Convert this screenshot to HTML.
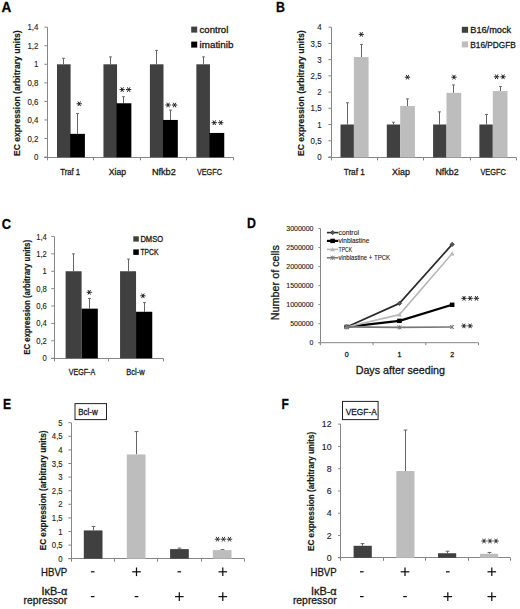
<!DOCTYPE html><html><head><meta charset="utf-8"><style>html,body{margin:0;padding:0;background:#fff;}svg{display:block;}text{font-family:"Liberation Sans",sans-serif;stroke:#1a1a1a;stroke-width:0.3px;}</style></head><body>
<svg width="520" height="609" viewBox="0 0 520 609">
<rect width="520" height="609" fill="#fff"/>
<text x="1.4" y="11.5" font-size="13.8" font-weight="bold" textLength="9.8" lengthAdjust="spacingAndGlyphs" fill="#000">A</text>
<line x1="47.5" y1="157.05" x2="47.5" y2="27.2" stroke="#868686" stroke-width="1"/>
<line x1="44.4" y1="157.05" x2="47.2" y2="157.05" stroke="#868686" stroke-width="1"/>
<text x="38.4" y="160.22" font-size="8.8" text-anchor="end" textLength="4.4" lengthAdjust="spacingAndGlyphs" fill="#1a1a1a" style="stroke-width:0.12px">0</text>
<line x1="44.4" y1="138.5" x2="47.2" y2="138.5" stroke="#868686" stroke-width="1"/>
<text x="38.4" y="141.67" font-size="8.8" text-anchor="end" textLength="11.01" lengthAdjust="spacingAndGlyphs" fill="#1a1a1a" style="stroke-width:0.12px">0,2</text>
<line x1="44.4" y1="119.95" x2="47.2" y2="119.95" stroke="#868686" stroke-width="1"/>
<text x="38.4" y="123.12" font-size="8.8" text-anchor="end" textLength="11.01" lengthAdjust="spacingAndGlyphs" fill="#1a1a1a" style="stroke-width:0.12px">0,4</text>
<line x1="44.4" y1="101.4" x2="47.2" y2="101.4" stroke="#868686" stroke-width="1"/>
<text x="38.4" y="104.57" font-size="8.8" text-anchor="end" textLength="11.01" lengthAdjust="spacingAndGlyphs" fill="#1a1a1a" style="stroke-width:0.12px">0,6</text>
<line x1="44.4" y1="82.85" x2="47.2" y2="82.85" stroke="#868686" stroke-width="1"/>
<text x="38.4" y="86.02" font-size="8.8" text-anchor="end" textLength="11.01" lengthAdjust="spacingAndGlyphs" fill="#1a1a1a" style="stroke-width:0.12px">0,8</text>
<line x1="44.4" y1="64.3" x2="47.2" y2="64.3" stroke="#868686" stroke-width="1"/>
<text x="38.4" y="67.47" font-size="8.8" text-anchor="end" textLength="4.4" lengthAdjust="spacingAndGlyphs" fill="#1a1a1a" style="stroke-width:0.12px">1</text>
<line x1="44.4" y1="45.75" x2="47.2" y2="45.75" stroke="#868686" stroke-width="1"/>
<text x="38.4" y="48.92" font-size="8.8" text-anchor="end" textLength="11.01" lengthAdjust="spacingAndGlyphs" fill="#1a1a1a" style="stroke-width:0.12px">1,2</text>
<line x1="44.4" y1="27.2" x2="47.2" y2="27.2" stroke="#868686" stroke-width="1"/>
<text x="38.4" y="30.37" font-size="8.8" text-anchor="end" textLength="11.01" lengthAdjust="spacingAndGlyphs" fill="#1a1a1a" style="stroke-width:0.12px">1,4</text>
<line x1="44.2" y1="157.5" x2="233" y2="157.5" stroke="#868686" stroke-width="1"/>
<line x1="47.5" y1="157.3" x2="47.5" y2="160.3" stroke="#868686" stroke-width="1"/>
<line x1="93.5" y1="157.3" x2="93.5" y2="160.3" stroke="#868686" stroke-width="1"/>
<line x1="140.5" y1="157.3" x2="140.5" y2="160.3" stroke="#868686" stroke-width="1"/>
<line x1="186.5" y1="157.3" x2="186.5" y2="160.3" stroke="#868686" stroke-width="1"/>
<line x1="233.5" y1="157.3" x2="233.5" y2="160.3" stroke="#868686" stroke-width="1"/>
<line x1="63.5" y1="58.27" x2="63.5" y2="64.3" stroke="#666666" stroke-width="1"/>
<line x1="62.1" y1="58.27" x2="64.9" y2="58.27" stroke="#666666" stroke-width="1"/>
<rect x="57" y="64.3" width="13.6" height="93" fill="#404040"/>
<line x1="77.5" y1="113.46" x2="77.5" y2="133.86" stroke="#666666" stroke-width="1"/>
<line x1="76.1" y1="113.46" x2="78.9" y2="113.46" stroke="#666666" stroke-width="1"/>
<rect x="70.1" y="133.86" width="14.8" height="23.44" fill="#000000"/>
<text x="70.2" y="174.8" font-size="9.2" text-anchor="middle" textLength="20" lengthAdjust="spacingAndGlyphs" fill="#1a1a1a">Traf 1</text>
<line x1="110.5" y1="56.88" x2="110.5" y2="64.3" stroke="#666666" stroke-width="1"/>
<line x1="109.1" y1="56.88" x2="111.9" y2="56.88" stroke="#666666" stroke-width="1"/>
<rect x="103.45" y="64.3" width="13.6" height="93" fill="#404040"/>
<line x1="123.5" y1="96.76" x2="123.5" y2="103.26" stroke="#666666" stroke-width="1"/>
<line x1="122.1" y1="96.76" x2="124.9" y2="96.76" stroke="#666666" stroke-width="1"/>
<rect x="116.55" y="103.26" width="14.8" height="54.04" fill="#000000"/>
<text x="117.5" y="174.8" font-size="9.2" text-anchor="middle" textLength="17.3" lengthAdjust="spacingAndGlyphs" fill="#1a1a1a">Xiap</text>
<line x1="156.5" y1="50.39" x2="156.5" y2="64.3" stroke="#666666" stroke-width="1"/>
<line x1="155.1" y1="50.39" x2="157.9" y2="50.39" stroke="#666666" stroke-width="1"/>
<rect x="149.9" y="64.3" width="13.6" height="93" fill="#404040"/>
<line x1="170.5" y1="110.12" x2="170.5" y2="119.95" stroke="#666666" stroke-width="1"/>
<line x1="169.1" y1="110.12" x2="171.9" y2="110.12" stroke="#666666" stroke-width="1"/>
<rect x="163" y="119.95" width="14.8" height="37.35" fill="#000000"/>
<text x="163.85" y="174.8" font-size="9.2" text-anchor="middle" textLength="23.9" lengthAdjust="spacingAndGlyphs" fill="#1a1a1a">Nfkb2</text>
<line x1="203.5" y1="56.88" x2="203.5" y2="64.3" stroke="#666666" stroke-width="1"/>
<line x1="202.1" y1="56.88" x2="204.9" y2="56.88" stroke="#666666" stroke-width="1"/>
<rect x="196.35" y="64.3" width="13.6" height="93" fill="#404040"/>
<rect x="209.45" y="132.94" width="14.8" height="24.37" fill="#000000"/>
<text x="209.45" y="174.8" font-size="9.2" text-anchor="middle" textLength="25.1" lengthAdjust="spacingAndGlyphs" fill="#1a1a1a">VEGFC</text>
<line x1="76.55" y1="103.8" x2="81.85" y2="103.8" stroke="#1a1a1a" stroke-width="0.95"/>
<line x1="77.88" y1="101.51" x2="80.53" y2="106.09" stroke="#1a1a1a" stroke-width="0.95"/>
<line x1="80.53" y1="101.51" x2="77.88" y2="106.09" stroke="#1a1a1a" stroke-width="0.95"/>
<line x1="119.5" y1="89.6" x2="124.8" y2="89.6" stroke="#1a1a1a" stroke-width="0.95"/>
<line x1="120.83" y1="87.31" x2="123.48" y2="91.89" stroke="#1a1a1a" stroke-width="0.95"/>
<line x1="123.48" y1="87.31" x2="120.83" y2="91.89" stroke="#1a1a1a" stroke-width="0.95"/>
<line x1="126" y1="89.6" x2="131.3" y2="89.6" stroke="#1a1a1a" stroke-width="0.95"/>
<line x1="127.33" y1="87.31" x2="129.97" y2="91.89" stroke="#1a1a1a" stroke-width="0.95"/>
<line x1="129.97" y1="87.31" x2="127.33" y2="91.89" stroke="#1a1a1a" stroke-width="0.95"/>
<line x1="165.4" y1="105" x2="170.7" y2="105" stroke="#1a1a1a" stroke-width="0.95"/>
<line x1="166.73" y1="102.71" x2="169.38" y2="107.29" stroke="#1a1a1a" stroke-width="0.95"/>
<line x1="169.38" y1="102.71" x2="166.73" y2="107.29" stroke="#1a1a1a" stroke-width="0.95"/>
<line x1="171.9" y1="105" x2="177.2" y2="105" stroke="#1a1a1a" stroke-width="0.95"/>
<line x1="173.23" y1="102.71" x2="175.88" y2="107.29" stroke="#1a1a1a" stroke-width="0.95"/>
<line x1="175.88" y1="102.71" x2="173.23" y2="107.29" stroke="#1a1a1a" stroke-width="0.95"/>
<line x1="211.6" y1="122.7" x2="216.9" y2="122.7" stroke="#1a1a1a" stroke-width="0.95"/>
<line x1="212.93" y1="120.41" x2="215.57" y2="124.99" stroke="#1a1a1a" stroke-width="0.95"/>
<line x1="215.57" y1="120.41" x2="212.93" y2="124.99" stroke="#1a1a1a" stroke-width="0.95"/>
<line x1="218.1" y1="122.7" x2="223.4" y2="122.7" stroke="#1a1a1a" stroke-width="0.95"/>
<line x1="219.43" y1="120.41" x2="222.07" y2="124.99" stroke="#1a1a1a" stroke-width="0.95"/>
<line x1="222.07" y1="120.41" x2="219.43" y2="124.99" stroke="#1a1a1a" stroke-width="0.95"/>
<rect x="191.2" y="26.6" width="6" height="6" fill="#404040"/>
<rect x="191.2" y="41.6" width="6" height="6" fill="#000000"/>
<text x="199.6" y="32.5" font-size="8.8" textLength="28.7" lengthAdjust="spacingAndGlyphs" fill="#1a1a1a">control</text>
<text x="199.6" y="47.5" font-size="8.8" textLength="33.8" lengthAdjust="spacingAndGlyphs" fill="#1a1a1a">imatinib</text>
<text transform="translate(20,156.1) rotate(-90)" x="0" y="0" font-size="9" font-weight="bold" style="stroke-width:0.18px" textLength="125.8" lengthAdjust="spacingAndGlyphs" fill="#1a1a1a">EC expression (arbitrary units)</text>
<text x="276" y="11.6" font-size="13.8" font-weight="bold" textLength="8.9" lengthAdjust="spacingAndGlyphs" fill="#000">B</text>
<line x1="331.5" y1="156.93" x2="331.5" y2="27.21" stroke="#868686" stroke-width="1"/>
<line x1="328.4" y1="156.93" x2="331.2" y2="156.93" stroke="#868686" stroke-width="1"/>
<text x="321.6" y="160.1" font-size="8.8" text-anchor="end" textLength="4.4" lengthAdjust="spacingAndGlyphs" fill="#1a1a1a" style="stroke-width:0.12px">0</text>
<line x1="328.4" y1="140.72" x2="331.2" y2="140.72" stroke="#868686" stroke-width="1"/>
<text x="321.6" y="143.88" font-size="8.8" text-anchor="end" textLength="11.01" lengthAdjust="spacingAndGlyphs" fill="#1a1a1a" style="stroke-width:0.12px">0,5</text>
<line x1="328.4" y1="124.5" x2="331.2" y2="124.5" stroke="#868686" stroke-width="1"/>
<text x="321.6" y="127.67" font-size="8.8" text-anchor="end" textLength="4.4" lengthAdjust="spacingAndGlyphs" fill="#1a1a1a" style="stroke-width:0.12px">1</text>
<line x1="328.4" y1="108.29" x2="331.2" y2="108.29" stroke="#868686" stroke-width="1"/>
<text x="321.6" y="111.45" font-size="8.8" text-anchor="end" textLength="11.01" lengthAdjust="spacingAndGlyphs" fill="#1a1a1a" style="stroke-width:0.12px">1,5</text>
<line x1="328.4" y1="92.07" x2="331.2" y2="92.07" stroke="#868686" stroke-width="1"/>
<text x="321.6" y="95.24" font-size="8.8" text-anchor="end" textLength="4.4" lengthAdjust="spacingAndGlyphs" fill="#1a1a1a" style="stroke-width:0.12px">2</text>
<line x1="328.4" y1="75.86" x2="331.2" y2="75.86" stroke="#868686" stroke-width="1"/>
<text x="321.6" y="79.02" font-size="8.8" text-anchor="end" textLength="11.01" lengthAdjust="spacingAndGlyphs" fill="#1a1a1a" style="stroke-width:0.12px">2,5</text>
<line x1="328.4" y1="59.64" x2="331.2" y2="59.64" stroke="#868686" stroke-width="1"/>
<text x="321.6" y="62.81" font-size="8.8" text-anchor="end" textLength="4.4" lengthAdjust="spacingAndGlyphs" fill="#1a1a1a" style="stroke-width:0.12px">3</text>
<line x1="328.4" y1="43.43" x2="331.2" y2="43.43" stroke="#868686" stroke-width="1"/>
<text x="321.6" y="46.59" font-size="8.8" text-anchor="end" textLength="11.01" lengthAdjust="spacingAndGlyphs" fill="#1a1a1a" style="stroke-width:0.12px">3,5</text>
<line x1="328.4" y1="27.21" x2="331.2" y2="27.21" stroke="#868686" stroke-width="1"/>
<text x="321.6" y="30.38" font-size="8.8" text-anchor="end" textLength="4.4" lengthAdjust="spacingAndGlyphs" fill="#1a1a1a" style="stroke-width:0.12px">4</text>
<line x1="328.2" y1="157.5" x2="516.4" y2="157.5" stroke="#868686" stroke-width="1"/>
<line x1="331.5" y1="157.4" x2="331.5" y2="160.4" stroke="#868686" stroke-width="1"/>
<line x1="377.5" y1="157.4" x2="377.5" y2="160.4" stroke="#868686" stroke-width="1"/>
<line x1="423.5" y1="157.4" x2="423.5" y2="160.4" stroke="#868686" stroke-width="1"/>
<line x1="470.5" y1="157.4" x2="470.5" y2="160.4" stroke="#868686" stroke-width="1"/>
<line x1="516.5" y1="157.4" x2="516.5" y2="160.4" stroke="#868686" stroke-width="1"/>
<line x1="347.5" y1="102.77" x2="347.5" y2="124.5" stroke="#666666" stroke-width="1"/>
<line x1="346.1" y1="102.77" x2="348.9" y2="102.77" stroke="#666666" stroke-width="1"/>
<rect x="340.5" y="124.5" width="13.4" height="32.9" fill="#404040"/>
<line x1="361.5" y1="44.4" x2="361.5" y2="57.05" stroke="#666666" stroke-width="1"/>
<line x1="360.1" y1="44.4" x2="362.9" y2="44.4" stroke="#666666" stroke-width="1"/>
<rect x="353.9" y="57.05" width="14.7" height="100.35" fill="#bdbdbd"/>
<text x="354.25" y="174.8" font-size="9.2" text-anchor="middle" textLength="21.1" lengthAdjust="spacingAndGlyphs" fill="#1a1a1a">Traf 1</text>
<line x1="393.5" y1="122.23" x2="393.5" y2="124.5" stroke="#666666" stroke-width="1"/>
<line x1="392.1" y1="122.23" x2="394.9" y2="122.23" stroke="#666666" stroke-width="1"/>
<rect x="386.8" y="124.5" width="13.4" height="32.9" fill="#404040"/>
<line x1="407.5" y1="98.88" x2="407.5" y2="106.01" stroke="#666666" stroke-width="1"/>
<line x1="406.1" y1="98.88" x2="408.9" y2="98.88" stroke="#666666" stroke-width="1"/>
<rect x="400.2" y="106.01" width="14.7" height="51.39" fill="#bdbdbd"/>
<text x="401" y="174.8" font-size="9.2" text-anchor="middle" textLength="17.8" lengthAdjust="spacingAndGlyphs" fill="#1a1a1a">Xiap</text>
<line x1="439.5" y1="111.85" x2="439.5" y2="124.5" stroke="#666666" stroke-width="1"/>
<line x1="438.1" y1="111.85" x2="440.9" y2="111.85" stroke="#666666" stroke-width="1"/>
<rect x="433.1" y="124.5" width="13.4" height="32.9" fill="#404040"/>
<line x1="453.5" y1="84.94" x2="453.5" y2="92.88" stroke="#666666" stroke-width="1"/>
<line x1="452.1" y1="84.94" x2="454.9" y2="84.94" stroke="#666666" stroke-width="1"/>
<rect x="446.5" y="92.88" width="14.7" height="64.52" fill="#bdbdbd"/>
<text x="447.05" y="174.8" font-size="9.2" text-anchor="middle" textLength="23.3" lengthAdjust="spacingAndGlyphs" fill="#1a1a1a">Nfkb2</text>
<line x1="486.5" y1="114.45" x2="486.5" y2="124.5" stroke="#666666" stroke-width="1"/>
<line x1="485.1" y1="114.45" x2="487.9" y2="114.45" stroke="#666666" stroke-width="1"/>
<rect x="479.4" y="124.5" width="13.4" height="32.9" fill="#404040"/>
<line x1="500.5" y1="86.56" x2="500.5" y2="91.1" stroke="#666666" stroke-width="1"/>
<line x1="499.1" y1="86.56" x2="501.9" y2="86.56" stroke="#666666" stroke-width="1"/>
<rect x="492.8" y="91.1" width="14.7" height="66.3" fill="#bdbdbd"/>
<text x="493.2" y="174.8" font-size="9.2" text-anchor="middle" textLength="25.6" lengthAdjust="spacingAndGlyphs" fill="#1a1a1a">VEGFC</text>
<line x1="358.65" y1="34.4" x2="363.95" y2="34.4" stroke="#1a1a1a" stroke-width="0.95"/>
<line x1="359.98" y1="32.11" x2="362.62" y2="36.69" stroke="#1a1a1a" stroke-width="0.95"/>
<line x1="362.62" y1="32.11" x2="359.98" y2="36.69" stroke="#1a1a1a" stroke-width="0.95"/>
<line x1="404.85" y1="77.2" x2="410.15" y2="77.2" stroke="#1a1a1a" stroke-width="0.95"/>
<line x1="406.18" y1="74.91" x2="408.82" y2="79.49" stroke="#1a1a1a" stroke-width="0.95"/>
<line x1="408.82" y1="74.91" x2="406.18" y2="79.49" stroke="#1a1a1a" stroke-width="0.95"/>
<line x1="451.35" y1="77.2" x2="456.65" y2="77.2" stroke="#1a1a1a" stroke-width="0.95"/>
<line x1="452.68" y1="74.91" x2="455.32" y2="79.49" stroke="#1a1a1a" stroke-width="0.95"/>
<line x1="455.32" y1="74.91" x2="452.68" y2="79.49" stroke="#1a1a1a" stroke-width="0.95"/>
<line x1="493.9" y1="76.8" x2="499.2" y2="76.8" stroke="#1a1a1a" stroke-width="0.95"/>
<line x1="495.23" y1="74.51" x2="497.88" y2="79.09" stroke="#1a1a1a" stroke-width="0.95"/>
<line x1="497.88" y1="74.51" x2="495.23" y2="79.09" stroke="#1a1a1a" stroke-width="0.95"/>
<line x1="500.4" y1="76.8" x2="505.7" y2="76.8" stroke="#1a1a1a" stroke-width="0.95"/>
<line x1="501.73" y1="74.51" x2="504.38" y2="79.09" stroke="#1a1a1a" stroke-width="0.95"/>
<line x1="504.38" y1="74.51" x2="501.73" y2="79.09" stroke="#1a1a1a" stroke-width="0.95"/>
<rect x="461.8" y="26.8" width="6.3" height="6" fill="#404040"/>
<rect x="461.8" y="41.4" width="6.3" height="6" fill="#bdbdbd"/>
<text x="470.3" y="32.7" font-size="8.8" textLength="40.8" lengthAdjust="spacingAndGlyphs" fill="#1a1a1a">B16/mock</text>
<text x="470.3" y="47.5" font-size="8.8" textLength="45.5" lengthAdjust="spacingAndGlyphs" fill="#1a1a1a">B16/PDGFB</text>
<text transform="translate(303.8,156) rotate(-90)" x="0" y="0" font-size="9" font-weight="bold" style="stroke-width:0.18px" textLength="125.7" lengthAdjust="spacingAndGlyphs" fill="#1a1a1a">EC expression (arbitrary units)</text>
<text x="1.8" y="228.6" font-size="13.8" font-weight="bold" textLength="9.3" lengthAdjust="spacingAndGlyphs" fill="#000">C</text>
<line x1="54.5" y1="358.2" x2="54.5" y2="236.47" stroke="#868686" stroke-width="1"/>
<line x1="51.3" y1="358.2" x2="54.1" y2="358.2" stroke="#868686" stroke-width="1"/>
<text x="46.8" y="361.26" font-size="8.5" text-anchor="end" textLength="4.25" lengthAdjust="spacingAndGlyphs" fill="#1a1a1a" style="stroke-width:0.12px">0</text>
<line x1="51.3" y1="340.81" x2="54.1" y2="340.81" stroke="#868686" stroke-width="1"/>
<text x="46.8" y="343.87" font-size="8.5" text-anchor="end" textLength="10.63" lengthAdjust="spacingAndGlyphs" fill="#1a1a1a" style="stroke-width:0.12px">0,2</text>
<line x1="51.3" y1="323.42" x2="54.1" y2="323.42" stroke="#868686" stroke-width="1"/>
<text x="46.8" y="326.48" font-size="8.5" text-anchor="end" textLength="10.63" lengthAdjust="spacingAndGlyphs" fill="#1a1a1a" style="stroke-width:0.12px">0,4</text>
<line x1="51.3" y1="306.03" x2="54.1" y2="306.03" stroke="#868686" stroke-width="1"/>
<text x="46.8" y="309.09" font-size="8.5" text-anchor="end" textLength="10.63" lengthAdjust="spacingAndGlyphs" fill="#1a1a1a" style="stroke-width:0.12px">0,6</text>
<line x1="51.3" y1="288.64" x2="54.1" y2="288.64" stroke="#868686" stroke-width="1"/>
<text x="46.8" y="291.7" font-size="8.5" text-anchor="end" textLength="10.63" lengthAdjust="spacingAndGlyphs" fill="#1a1a1a" style="stroke-width:0.12px">0,8</text>
<line x1="51.3" y1="271.25" x2="54.1" y2="271.25" stroke="#868686" stroke-width="1"/>
<text x="46.8" y="274.31" font-size="8.5" text-anchor="end" textLength="4.25" lengthAdjust="spacingAndGlyphs" fill="#1a1a1a" style="stroke-width:0.12px">1</text>
<line x1="51.3" y1="253.86" x2="54.1" y2="253.86" stroke="#868686" stroke-width="1"/>
<text x="46.8" y="256.92" font-size="8.5" text-anchor="end" textLength="10.63" lengthAdjust="spacingAndGlyphs" fill="#1a1a1a" style="stroke-width:0.12px">1,2</text>
<line x1="51.3" y1="236.47" x2="54.1" y2="236.47" stroke="#868686" stroke-width="1"/>
<text x="46.8" y="239.53" font-size="8.5" text-anchor="end" textLength="10.63" lengthAdjust="spacingAndGlyphs" fill="#1a1a1a" style="stroke-width:0.12px">1,4</text>
<line x1="51.1" y1="358.5" x2="163" y2="358.5" stroke="#868686" stroke-width="1"/>
<line x1="54.5" y1="358.3" x2="54.5" y2="361.3" stroke="#868686" stroke-width="1"/>
<line x1="108.5" y1="358.3" x2="108.5" y2="361.3" stroke="#868686" stroke-width="1"/>
<line x1="163.5" y1="358.3" x2="163.5" y2="361.3" stroke="#868686" stroke-width="1"/>
<line x1="73.5" y1="253.86" x2="73.5" y2="271.25" stroke="#666666" stroke-width="1"/>
<line x1="72.1" y1="253.86" x2="74.9" y2="253.86" stroke="#666666" stroke-width="1"/>
<rect x="65.6" y="271.25" width="16" height="87.05" fill="#404040"/>
<line x1="89.5" y1="298.55" x2="89.5" y2="308.64" stroke="#666666" stroke-width="1"/>
<line x1="88.1" y1="298.55" x2="90.9" y2="298.55" stroke="#666666" stroke-width="1"/>
<rect x="81.6" y="308.64" width="16.2" height="49.66" fill="#000000"/>
<text x="81.95" y="374.6" font-size="9.2" text-anchor="middle" textLength="26.5" lengthAdjust="spacingAndGlyphs" fill="#1a1a1a">VEGF-A</text>
<line x1="128.5" y1="259.08" x2="128.5" y2="271.25" stroke="#666666" stroke-width="1"/>
<line x1="127.1" y1="259.08" x2="129.9" y2="259.08" stroke="#666666" stroke-width="1"/>
<rect x="120.05" y="271.25" width="16" height="87.05" fill="#404040"/>
<line x1="144.5" y1="302.55" x2="144.5" y2="311.77" stroke="#666666" stroke-width="1"/>
<line x1="143.1" y1="302.55" x2="145.9" y2="302.55" stroke="#666666" stroke-width="1"/>
<rect x="136.05" y="311.77" width="16.2" height="46.53" fill="#000000"/>
<text x="135.45" y="374.6" font-size="9.2" text-anchor="middle" textLength="18.3" lengthAdjust="spacingAndGlyphs" fill="#1a1a1a">Bcl-w</text>
<line x1="86.55" y1="292.3" x2="91.85" y2="292.3" stroke="#1a1a1a" stroke-width="0.95"/>
<line x1="87.88" y1="290.01" x2="90.53" y2="294.59" stroke="#1a1a1a" stroke-width="0.95"/>
<line x1="90.53" y1="290.01" x2="87.88" y2="294.59" stroke="#1a1a1a" stroke-width="0.95"/>
<line x1="140.25" y1="295.8" x2="145.55" y2="295.8" stroke="#1a1a1a" stroke-width="0.95"/>
<line x1="141.58" y1="293.51" x2="144.22" y2="298.09" stroke="#1a1a1a" stroke-width="0.95"/>
<line x1="144.22" y1="293.51" x2="141.58" y2="298.09" stroke="#1a1a1a" stroke-width="0.95"/>
<rect x="133.3" y="236.3" width="5.5" height="5.3" fill="#404040"/>
<rect x="133.3" y="249.4" width="5.5" height="5.5" fill="#000000"/>
<text x="140.4" y="241.9" font-size="8.3" textLength="22.7" lengthAdjust="spacingAndGlyphs" fill="#1a1a1a">DMSO</text>
<text x="140.4" y="255" font-size="8.3" textLength="18" lengthAdjust="spacingAndGlyphs" fill="#1a1a1a">TPCK</text>
<text transform="translate(30.1,354.8) rotate(-90)" x="0" y="0" font-size="8.3" font-weight="bold" style="stroke-width:0.18px" textLength="114.8" lengthAdjust="spacingAndGlyphs" fill="#1a1a1a">EC expression (arbitrary units)</text>
<text x="246.9" y="228" font-size="13.8" font-weight="bold" textLength="8.9" lengthAdjust="spacingAndGlyphs" fill="#000">D</text>
<line x1="320.5" y1="342.7" x2="320.5" y2="228.52" stroke="#868686" stroke-width="1"/>
<line x1="318.4" y1="342.7" x2="320.4" y2="342.7" stroke="#868686" stroke-width="1"/>
<text x="313.5" y="345.22" font-size="7" text-anchor="end" textLength="3.89" lengthAdjust="spacingAndGlyphs" fill="#1a1a1a" style="stroke-width:0.12px">0</text>
<line x1="318.4" y1="323.67" x2="320.4" y2="323.67" stroke="#868686" stroke-width="1"/>
<text x="313.5" y="326.19" font-size="7" text-anchor="end" textLength="23.36" lengthAdjust="spacingAndGlyphs" fill="#1a1a1a" style="stroke-width:0.12px">500000</text>
<line x1="318.4" y1="304.64" x2="320.4" y2="304.64" stroke="#868686" stroke-width="1"/>
<text x="313.5" y="307.16" font-size="7" text-anchor="end" textLength="27.25" lengthAdjust="spacingAndGlyphs" fill="#1a1a1a" style="stroke-width:0.12px">1000000</text>
<line x1="318.4" y1="285.61" x2="320.4" y2="285.61" stroke="#868686" stroke-width="1"/>
<text x="313.5" y="288.13" font-size="7" text-anchor="end" textLength="27.25" lengthAdjust="spacingAndGlyphs" fill="#1a1a1a" style="stroke-width:0.12px">1500000</text>
<line x1="318.4" y1="266.58" x2="320.4" y2="266.58" stroke="#868686" stroke-width="1"/>
<text x="313.5" y="269.1" font-size="7" text-anchor="end" textLength="27.25" lengthAdjust="spacingAndGlyphs" fill="#1a1a1a" style="stroke-width:0.12px">2000000</text>
<line x1="318.4" y1="247.55" x2="320.4" y2="247.55" stroke="#868686" stroke-width="1"/>
<text x="313.5" y="250.07" font-size="7" text-anchor="end" textLength="27.25" lengthAdjust="spacingAndGlyphs" fill="#1a1a1a" style="stroke-width:0.12px">2500000</text>
<line x1="318.4" y1="228.52" x2="320.4" y2="228.52" stroke="#868686" stroke-width="1"/>
<text x="313.5" y="231.04" font-size="7" text-anchor="end" textLength="27.25" lengthAdjust="spacingAndGlyphs" fill="#1a1a1a" style="stroke-width:0.12px">3000000</text>
<line x1="318.4" y1="342.7" x2="478.5" y2="342.7" stroke="#868686" stroke-width="1"/>
<line x1="320.4" y1="342.7" x2="320.4" y2="345.2" stroke="#868686" stroke-width="1"/>
<line x1="373.1" y1="342.7" x2="373.1" y2="345.2" stroke="#868686" stroke-width="1"/>
<line x1="425.8" y1="342.7" x2="425.8" y2="345.2" stroke="#868686" stroke-width="1"/>
<line x1="478.5" y1="342.7" x2="478.5" y2="345.2" stroke="#868686" stroke-width="1"/>
<text x="346.75" y="356.8" font-size="7" text-anchor="middle" fill="#1a1a1a">0</text>
<text x="399.45" y="356.8" font-size="7" text-anchor="middle" fill="#1a1a1a">1</text>
<text x="452.15" y="356.8" font-size="7" text-anchor="middle" fill="#1a1a1a">2</text>
<polyline points="346.75,326.91 399.45,303.38 452.15,244.39" fill="none" stroke="#2a2a2a" stroke-width="1.7" stroke-linejoin="round"/>
<path d="M346.75 324.71 L348.95 326.91 L346.75 329.11 L344.55 326.91Z" fill="#555" stroke="#2a2a2a" stroke-width="0.6"/>
<path d="M399.45 301.18 L401.65 303.38 L399.45 305.58 L397.25 303.38Z" fill="#555" stroke="#2a2a2a" stroke-width="0.6"/>
<path d="M452.15 242.19 L454.35 244.39 L452.15 246.59 L449.95 244.39Z" fill="#555" stroke="#2a2a2a" stroke-width="0.6"/>
<polyline points="346.75,326.91 399.45,320.85 452.15,304.79" fill="none" stroke="#000000" stroke-width="2.2" stroke-linejoin="round"/>
<rect x="344.45" y="324.71" width="4.6" height="4.4" fill="#000000"/>
<rect x="397.15" y="318.65" width="4.6" height="4.4" fill="#000000"/>
<rect x="449.85" y="302.59" width="4.6" height="4.4" fill="#000000"/>
<polyline points="346.75,326.91 399.45,314.61 452.15,253.6" fill="none" stroke="#b8b8b8" stroke-width="1.6" stroke-linejoin="round"/>
<path d="M346.75 324.51 L349.15 328.71 L344.35 328.71Z" fill="#b8b8b8"/>
<path d="M399.45 312.21 L401.85 316.41 L397.05 316.41Z" fill="#b8b8b8"/>
<path d="M452.15 251.2 L454.55 255.4 L449.75 255.4Z" fill="#b8b8b8"/>
<polyline points="346.75,326.91 399.45,327.36 452.15,327.02" fill="none" stroke="#777777" stroke-width="1.6" stroke-linejoin="round"/>
<line x1="344.75" y1="324.91" x2="348.75" y2="328.91" stroke="#777777" stroke-width="1"/>
<line x1="344.75" y1="328.91" x2="348.75" y2="324.91" stroke="#777777" stroke-width="1"/>
<line x1="346.75" y1="324.71" x2="346.75" y2="329.11" stroke="#777777" stroke-width="0.8"/>
<line x1="397.45" y1="325.36" x2="401.45" y2="329.36" stroke="#777777" stroke-width="1"/>
<line x1="397.45" y1="329.36" x2="401.45" y2="325.36" stroke="#777777" stroke-width="1"/>
<line x1="399.45" y1="325.16" x2="399.45" y2="329.56" stroke="#777777" stroke-width="0.8"/>
<line x1="450.15" y1="325.02" x2="454.15" y2="329.02" stroke="#777777" stroke-width="1"/>
<line x1="450.15" y1="329.02" x2="454.15" y2="325.02" stroke="#777777" stroke-width="1"/>
<line x1="452.15" y1="324.82" x2="452.15" y2="329.22" stroke="#777777" stroke-width="0.8"/>
<line x1="326.9" y1="232.6" x2="338.3" y2="232.6" stroke="#2a2a2a" stroke-width="1.6"/>
<path d="M332.6 230.4 L334.8 232.6 L332.6 234.8 L330.4 232.6Z" fill="#555" stroke="#2a2a2a" stroke-width="0.6"/>
<text x="338.6" y="235" font-size="6.8" textLength="20.3" lengthAdjust="spacingAndGlyphs" fill="#1a1a1a" style="stroke-width:0.1px">control</text>
<line x1="326.9" y1="240.9" x2="338.3" y2="240.9" stroke="#000000" stroke-width="2.2"/>
<rect x="330.3" y="238.7" width="4.6" height="4.4" fill="#000000"/>
<text x="338.6" y="243.3" font-size="6.8" textLength="30.7" lengthAdjust="spacingAndGlyphs" fill="#1a1a1a" style="stroke-width:0.1px">vinblastine</text>
<line x1="326.9" y1="249.4" x2="338.3" y2="249.4" stroke="#b8b8b8" stroke-width="1.6"/>
<path d="M332.6 247 L335 251.2 L330.2 251.2Z" fill="#b8b8b8"/>
<text x="338.6" y="251.8" font-size="6.8" textLength="13.5" lengthAdjust="spacingAndGlyphs" fill="#1a1a1a" style="stroke-width:0.1px">TPCK</text>
<line x1="326.9" y1="257.8" x2="338.3" y2="257.8" stroke="#777777" stroke-width="1.5"/>
<line x1="330.6" y1="255.8" x2="334.6" y2="259.8" stroke="#777777" stroke-width="1"/>
<line x1="330.6" y1="259.8" x2="334.6" y2="255.8" stroke="#777777" stroke-width="1"/>
<line x1="332.6" y1="255.6" x2="332.6" y2="260" stroke="#777777" stroke-width="0.8"/>
<text x="338.6" y="260.2" font-size="6.8" textLength="51.5" lengthAdjust="spacingAndGlyphs" fill="#1a1a1a" style="stroke-width:0.1px">vinblastine + TPCK</text>
<line x1="461.35" y1="298.3" x2="466.65" y2="298.3" stroke="#1a1a1a" stroke-width="0.95"/>
<line x1="462.68" y1="296.01" x2="465.32" y2="300.59" stroke="#1a1a1a" stroke-width="0.95"/>
<line x1="465.32" y1="296.01" x2="462.68" y2="300.59" stroke="#1a1a1a" stroke-width="0.95"/>
<line x1="467.55" y1="298.3" x2="472.85" y2="298.3" stroke="#1a1a1a" stroke-width="0.95"/>
<line x1="468.88" y1="296.01" x2="471.52" y2="300.59" stroke="#1a1a1a" stroke-width="0.95"/>
<line x1="471.52" y1="296.01" x2="468.88" y2="300.59" stroke="#1a1a1a" stroke-width="0.95"/>
<line x1="473.75" y1="298.3" x2="479.05" y2="298.3" stroke="#1a1a1a" stroke-width="0.95"/>
<line x1="475.07" y1="296.01" x2="477.72" y2="300.59" stroke="#1a1a1a" stroke-width="0.95"/>
<line x1="477.72" y1="296.01" x2="475.07" y2="300.59" stroke="#1a1a1a" stroke-width="0.95"/>
<line x1="461.25" y1="325.9" x2="466.55" y2="325.9" stroke="#1a1a1a" stroke-width="0.95"/>
<line x1="462.57" y1="323.61" x2="465.22" y2="328.19" stroke="#1a1a1a" stroke-width="0.95"/>
<line x1="465.22" y1="323.61" x2="462.57" y2="328.19" stroke="#1a1a1a" stroke-width="0.95"/>
<line x1="467.45" y1="325.9" x2="472.75" y2="325.9" stroke="#1a1a1a" stroke-width="0.95"/>
<line x1="468.77" y1="323.61" x2="471.42" y2="328.19" stroke="#1a1a1a" stroke-width="0.95"/>
<line x1="471.42" y1="323.61" x2="468.77" y2="328.19" stroke="#1a1a1a" stroke-width="0.95"/>
<text x="400.3" y="374.3" font-size="11" text-anchor="middle" textLength="89.3" lengthAdjust="spacingAndGlyphs" fill="#1a1a1a">Days after seeding</text>
<text transform="translate(278.9,320.3) rotate(-90)" x="0" y="0" font-size="11" textLength="75.1" lengthAdjust="spacingAndGlyphs" fill="#1a1a1a">Number of cells</text>
<text x="3.1" y="409.4" font-size="13.8" font-weight="bold" textLength="8.1" lengthAdjust="spacingAndGlyphs" fill="#000">E</text>
<line x1="71.5" y1="558.7" x2="71.5" y2="422.7" stroke="#868686" stroke-width="1"/>
<line x1="68.4" y1="558.7" x2="71.2" y2="558.7" stroke="#868686" stroke-width="1"/>
<text x="62.6" y="561.8" font-size="8.6" text-anchor="end" textLength="4.3" lengthAdjust="spacingAndGlyphs" fill="#1a1a1a" style="stroke-width:0.12px">0</text>
<line x1="68.4" y1="545.1" x2="71.2" y2="545.1" stroke="#868686" stroke-width="1"/>
<text x="62.6" y="548.2" font-size="8.6" text-anchor="end" textLength="10.76" lengthAdjust="spacingAndGlyphs" fill="#1a1a1a" style="stroke-width:0.12px">0,5</text>
<line x1="68.4" y1="531.5" x2="71.2" y2="531.5" stroke="#868686" stroke-width="1"/>
<text x="62.6" y="534.6" font-size="8.6" text-anchor="end" textLength="4.3" lengthAdjust="spacingAndGlyphs" fill="#1a1a1a" style="stroke-width:0.12px">1</text>
<line x1="68.4" y1="517.9" x2="71.2" y2="517.9" stroke="#868686" stroke-width="1"/>
<text x="62.6" y="521" font-size="8.6" text-anchor="end" textLength="10.76" lengthAdjust="spacingAndGlyphs" fill="#1a1a1a" style="stroke-width:0.12px">1,5</text>
<line x1="68.4" y1="504.3" x2="71.2" y2="504.3" stroke="#868686" stroke-width="1"/>
<text x="62.6" y="507.4" font-size="8.6" text-anchor="end" textLength="4.3" lengthAdjust="spacingAndGlyphs" fill="#1a1a1a" style="stroke-width:0.12px">2</text>
<line x1="68.4" y1="490.7" x2="71.2" y2="490.7" stroke="#868686" stroke-width="1"/>
<text x="62.6" y="493.8" font-size="8.6" text-anchor="end" textLength="10.76" lengthAdjust="spacingAndGlyphs" fill="#1a1a1a" style="stroke-width:0.12px">2,5</text>
<line x1="68.4" y1="477.1" x2="71.2" y2="477.1" stroke="#868686" stroke-width="1"/>
<text x="62.6" y="480.2" font-size="8.6" text-anchor="end" textLength="4.3" lengthAdjust="spacingAndGlyphs" fill="#1a1a1a" style="stroke-width:0.12px">3</text>
<line x1="68.4" y1="463.5" x2="71.2" y2="463.5" stroke="#868686" stroke-width="1"/>
<text x="62.6" y="466.6" font-size="8.6" text-anchor="end" textLength="10.76" lengthAdjust="spacingAndGlyphs" fill="#1a1a1a" style="stroke-width:0.12px">3,5</text>
<line x1="68.4" y1="449.9" x2="71.2" y2="449.9" stroke="#868686" stroke-width="1"/>
<text x="62.6" y="453" font-size="8.6" text-anchor="end" textLength="4.3" lengthAdjust="spacingAndGlyphs" fill="#1a1a1a" style="stroke-width:0.12px">4</text>
<line x1="68.4" y1="436.3" x2="71.2" y2="436.3" stroke="#868686" stroke-width="1"/>
<text x="62.6" y="439.4" font-size="8.6" text-anchor="end" textLength="10.76" lengthAdjust="spacingAndGlyphs" fill="#1a1a1a" style="stroke-width:0.12px">4,5</text>
<line x1="68.4" y1="422.7" x2="71.2" y2="422.7" stroke="#868686" stroke-width="1"/>
<text x="62.6" y="425.8" font-size="8.6" text-anchor="end" textLength="4.3" lengthAdjust="spacingAndGlyphs" fill="#1a1a1a" style="stroke-width:0.12px">5</text>
<line x1="68.2" y1="558.5" x2="244.4" y2="558.5" stroke="#868686" stroke-width="1"/>
<line x1="71.5" y1="558.7" x2="71.5" y2="561.7" stroke="#868686" stroke-width="1"/>
<line x1="114.5" y1="558.7" x2="114.5" y2="561.7" stroke="#868686" stroke-width="1"/>
<line x1="157.5" y1="558.7" x2="157.5" y2="561.7" stroke="#868686" stroke-width="1"/>
<line x1="201.5" y1="558.7" x2="201.5" y2="561.7" stroke="#868686" stroke-width="1"/>
<line x1="244.5" y1="558.7" x2="244.5" y2="561.7" stroke="#868686" stroke-width="1"/>
<line x1="93.5" y1="526.41" x2="93.5" y2="530.41" stroke="#666666" stroke-width="1"/>
<line x1="91.6" y1="526.41" x2="95.4" y2="526.41" stroke="#666666" stroke-width="1"/>
<rect x="83.8" y="530.41" width="18.7" height="28.29" fill="#404040"/>
<line x1="136.5" y1="431.59" x2="136.5" y2="454.42" stroke="#666666" stroke-width="1"/>
<line x1="134.6" y1="431.59" x2="138.4" y2="431.59" stroke="#666666" stroke-width="1"/>
<rect x="126.8" y="454.42" width="18.7" height="104.28" fill="#bdbdbd"/>
<line x1="179.5" y1="548.09" x2="179.5" y2="549.1" stroke="#666666" stroke-width="1"/>
<line x1="177.6" y1="548.09" x2="181.4" y2="548.09" stroke="#666666" stroke-width="1"/>
<rect x="170.1" y="549.1" width="18.7" height="9.6" fill="#404040"/>
<line x1="222.5" y1="549.59" x2="222.5" y2="550.1" stroke="#666666" stroke-width="1"/>
<line x1="220.6" y1="549.59" x2="224.4" y2="549.59" stroke="#666666" stroke-width="1"/>
<rect x="212.8" y="550.1" width="18.7" height="8.6" fill="#bdbdbd"/>
<line x1="214.8" y1="539.2" x2="220.2" y2="539.2" stroke="#1a1a1a" stroke-width="0.85"/>
<line x1="216.15" y1="536.86" x2="218.85" y2="541.54" stroke="#1a1a1a" stroke-width="0.85"/>
<line x1="218.85" y1="536.86" x2="216.15" y2="541.54" stroke="#1a1a1a" stroke-width="0.85"/>
<line x1="220.8" y1="539.2" x2="226.2" y2="539.2" stroke="#1a1a1a" stroke-width="0.85"/>
<line x1="222.15" y1="536.86" x2="224.85" y2="541.54" stroke="#1a1a1a" stroke-width="0.85"/>
<line x1="224.85" y1="536.86" x2="222.15" y2="541.54" stroke="#1a1a1a" stroke-width="0.85"/>
<line x1="226.8" y1="539.2" x2="232.2" y2="539.2" stroke="#1a1a1a" stroke-width="0.85"/>
<line x1="228.15" y1="536.86" x2="230.85" y2="541.54" stroke="#1a1a1a" stroke-width="0.85"/>
<line x1="230.85" y1="536.86" x2="228.15" y2="541.54" stroke="#1a1a1a" stroke-width="0.85"/>
<rect x="75" y="403.6" width="31.5" height="16" fill="#fff" stroke="#222" stroke-width="1"/>
<text x="78.3" y="414.5" font-size="8.6" textLength="19.5" lengthAdjust="spacingAndGlyphs" fill="#1a1a1a">Bcl-w</text>
<text x="67.3" y="575.5" font-size="10.2" text-anchor="end" textLength="26.2" lengthAdjust="spacingAndGlyphs" fill="#1a1a1a">HBVP</text>
<text x="67.3" y="594.8" font-size="10.2" text-anchor="end" textLength="25.8" lengthAdjust="spacingAndGlyphs" fill="#1a1a1a">I&#954;B-&#945;</text>
<text x="67.3" y="603.5" font-size="10.2" text-anchor="end" textLength="43.8" lengthAdjust="spacingAndGlyphs" fill="#1a1a1a">repressor</text>
<line x1="90.9" y1="571.8" x2="94.5" y2="571.8" stroke="#111" stroke-width="1.25"/>
<line x1="90.9" y1="596.6" x2="94.5" y2="596.6" stroke="#111" stroke-width="1.25"/>
<line x1="132.2" y1="571.8" x2="140.8" y2="571.8" stroke="#111" stroke-width="1.25"/>
<line x1="136.5" y1="567.5" x2="136.5" y2="576.1" stroke="#111" stroke-width="1.25"/>
<line x1="134.7" y1="596.6" x2="138.3" y2="596.6" stroke="#111" stroke-width="1.25"/>
<line x1="177.5" y1="571.8" x2="181.1" y2="571.8" stroke="#111" stroke-width="1.25"/>
<line x1="175" y1="596.6" x2="183.6" y2="596.6" stroke="#111" stroke-width="1.25"/>
<line x1="179.3" y1="592.3" x2="179.3" y2="600.9" stroke="#111" stroke-width="1.25"/>
<line x1="218.5" y1="571.8" x2="227.1" y2="571.8" stroke="#111" stroke-width="1.25"/>
<line x1="222.8" y1="567.5" x2="222.8" y2="576.1" stroke="#111" stroke-width="1.25"/>
<line x1="218.5" y1="596.6" x2="227.1" y2="596.6" stroke="#111" stroke-width="1.25"/>
<line x1="222.8" y1="592.3" x2="222.8" y2="600.9" stroke="#111" stroke-width="1.25"/>
<text transform="translate(45.9,550.3) rotate(-90)" x="0" y="0" font-size="9" font-weight="bold" style="stroke-width:0.18px" textLength="119.8" lengthAdjust="spacingAndGlyphs" fill="#1a1a1a">EC expression (arbitrary units)</text>
<text x="281.4" y="408.7" font-size="13.8" font-weight="bold" textLength="7.3" lengthAdjust="spacingAndGlyphs" fill="#000">F</text>
<line x1="340.5" y1="557.8" x2="340.5" y2="424.12" stroke="#868686" stroke-width="1"/>
<line x1="338.1" y1="557.8" x2="340.9" y2="557.8" stroke="#868686" stroke-width="1"/>
<text x="331.6" y="560.9" font-size="8.6" text-anchor="end" textLength="4.88" lengthAdjust="spacingAndGlyphs" fill="#1a1a1a" style="stroke-width:0.12px">0</text>
<line x1="338.1" y1="535.52" x2="340.9" y2="535.52" stroke="#868686" stroke-width="1"/>
<text x="331.6" y="538.62" font-size="8.6" text-anchor="end" textLength="4.88" lengthAdjust="spacingAndGlyphs" fill="#1a1a1a" style="stroke-width:0.12px">2</text>
<line x1="338.1" y1="513.24" x2="340.9" y2="513.24" stroke="#868686" stroke-width="1"/>
<text x="331.6" y="516.34" font-size="8.6" text-anchor="end" textLength="4.88" lengthAdjust="spacingAndGlyphs" fill="#1a1a1a" style="stroke-width:0.12px">4</text>
<line x1="338.1" y1="490.96" x2="340.9" y2="490.96" stroke="#868686" stroke-width="1"/>
<text x="331.6" y="494.06" font-size="8.6" text-anchor="end" textLength="4.88" lengthAdjust="spacingAndGlyphs" fill="#1a1a1a" style="stroke-width:0.12px">6</text>
<line x1="338.1" y1="468.68" x2="340.9" y2="468.68" stroke="#868686" stroke-width="1"/>
<text x="331.6" y="471.78" font-size="8.6" text-anchor="end" textLength="4.88" lengthAdjust="spacingAndGlyphs" fill="#1a1a1a" style="stroke-width:0.12px">8</text>
<line x1="338.1" y1="446.4" x2="340.9" y2="446.4" stroke="#868686" stroke-width="1"/>
<text x="331.6" y="449.5" font-size="8.6" text-anchor="end" textLength="9.76" lengthAdjust="spacingAndGlyphs" fill="#1a1a1a" style="stroke-width:0.12px">10</text>
<line x1="338.1" y1="424.12" x2="340.9" y2="424.12" stroke="#868686" stroke-width="1"/>
<text x="331.6" y="427.22" font-size="8.6" text-anchor="end" textLength="9.76" lengthAdjust="spacingAndGlyphs" fill="#1a1a1a" style="stroke-width:0.12px">12</text>
<line x1="337.9" y1="557.5" x2="510.5" y2="557.5" stroke="#868686" stroke-width="1"/>
<line x1="340.5" y1="557.8" x2="340.5" y2="560.8" stroke="#868686" stroke-width="1"/>
<line x1="383.5" y1="557.8" x2="383.5" y2="560.8" stroke="#868686" stroke-width="1"/>
<line x1="425.5" y1="557.8" x2="425.5" y2="560.8" stroke="#868686" stroke-width="1"/>
<line x1="468.5" y1="557.8" x2="468.5" y2="560.8" stroke="#868686" stroke-width="1"/>
<line x1="510.5" y1="557.8" x2="510.5" y2="560.8" stroke="#868686" stroke-width="1"/>
<line x1="362.5" y1="543.65" x2="362.5" y2="545.8" stroke="#666666" stroke-width="1"/>
<line x1="360.6" y1="543.65" x2="364.4" y2="543.65" stroke="#666666" stroke-width="1"/>
<rect x="353.6" y="545.8" width="18.2" height="12" fill="#404040"/>
<line x1="405.5" y1="430.02" x2="405.5" y2="471.02" stroke="#666666" stroke-width="1"/>
<line x1="403.6" y1="430.02" x2="407.4" y2="430.02" stroke="#666666" stroke-width="1"/>
<rect x="396.3" y="471.02" width="18.2" height="86.78" fill="#bdbdbd"/>
<line x1="447.5" y1="551.23" x2="447.5" y2="553.23" stroke="#666666" stroke-width="1"/>
<line x1="445.6" y1="551.23" x2="449.4" y2="551.23" stroke="#666666" stroke-width="1"/>
<rect x="438" y="553.23" width="18.2" height="4.57" fill="#404040"/>
<line x1="489.5" y1="552.45" x2="489.5" y2="553.79" stroke="#666666" stroke-width="1"/>
<line x1="487.6" y1="552.45" x2="491.4" y2="552.45" stroke="#666666" stroke-width="1"/>
<rect x="480" y="553.79" width="18.2" height="4.01" fill="#bdbdbd"/>
<line x1="481.3" y1="541" x2="486.7" y2="541" stroke="#1a1a1a" stroke-width="0.85"/>
<line x1="482.65" y1="538.66" x2="485.35" y2="543.34" stroke="#1a1a1a" stroke-width="0.85"/>
<line x1="485.35" y1="538.66" x2="482.65" y2="543.34" stroke="#1a1a1a" stroke-width="0.85"/>
<line x1="487.3" y1="541" x2="492.7" y2="541" stroke="#1a1a1a" stroke-width="0.85"/>
<line x1="488.65" y1="538.66" x2="491.35" y2="543.34" stroke="#1a1a1a" stroke-width="0.85"/>
<line x1="491.35" y1="538.66" x2="488.65" y2="543.34" stroke="#1a1a1a" stroke-width="0.85"/>
<line x1="493.3" y1="541" x2="498.7" y2="541" stroke="#1a1a1a" stroke-width="0.85"/>
<line x1="494.65" y1="538.66" x2="497.35" y2="543.34" stroke="#1a1a1a" stroke-width="0.85"/>
<line x1="497.35" y1="538.66" x2="494.65" y2="543.34" stroke="#1a1a1a" stroke-width="0.85"/>
<rect x="342.5" y="401.4" width="35.6" height="18.2" fill="#fff" stroke="#222" stroke-width="1"/>
<text x="345.8" y="414.5" font-size="9.3" textLength="30.9" lengthAdjust="spacingAndGlyphs" fill="#1a1a1a">VEGF-A</text>
<text x="336.7" y="575.5" font-size="10.2" text-anchor="end" textLength="26.2" lengthAdjust="spacingAndGlyphs" fill="#1a1a1a">HBVP</text>
<text x="336.7" y="594.8" font-size="10.2" text-anchor="end" textLength="25.8" lengthAdjust="spacingAndGlyphs" fill="#1a1a1a">I&#954;B-&#945;</text>
<text x="336.7" y="603.5" font-size="10.2" text-anchor="end" textLength="43.8" lengthAdjust="spacingAndGlyphs" fill="#1a1a1a">repressor</text>
<line x1="360" y1="571.8" x2="363.6" y2="571.8" stroke="#111" stroke-width="1.25"/>
<line x1="360" y1="596.6" x2="363.6" y2="596.6" stroke="#111" stroke-width="1.25"/>
<line x1="400.7" y1="571.8" x2="409.3" y2="571.8" stroke="#111" stroke-width="1.25"/>
<line x1="405" y1="567.5" x2="405" y2="576.1" stroke="#111" stroke-width="1.25"/>
<line x1="403.2" y1="596.6" x2="406.8" y2="596.6" stroke="#111" stroke-width="1.25"/>
<line x1="446" y1="571.8" x2="449.6" y2="571.8" stroke="#111" stroke-width="1.25"/>
<line x1="443.5" y1="596.6" x2="452.1" y2="596.6" stroke="#111" stroke-width="1.25"/>
<line x1="447.8" y1="592.3" x2="447.8" y2="600.9" stroke="#111" stroke-width="1.25"/>
<line x1="487.5" y1="571.8" x2="496.1" y2="571.8" stroke="#111" stroke-width="1.25"/>
<line x1="491.8" y1="567.5" x2="491.8" y2="576.1" stroke="#111" stroke-width="1.25"/>
<line x1="487.5" y1="596.6" x2="496.1" y2="596.6" stroke="#111" stroke-width="1.25"/>
<line x1="491.8" y1="592.3" x2="491.8" y2="600.9" stroke="#111" stroke-width="1.25"/>
<text transform="translate(314.2,551) rotate(-90)" x="0" y="0" font-size="9" font-weight="bold" style="stroke-width:0.18px" textLength="119.2" lengthAdjust="spacingAndGlyphs" fill="#1a1a1a">EC expression (arbitrary units)</text>
</svg></body></html>
